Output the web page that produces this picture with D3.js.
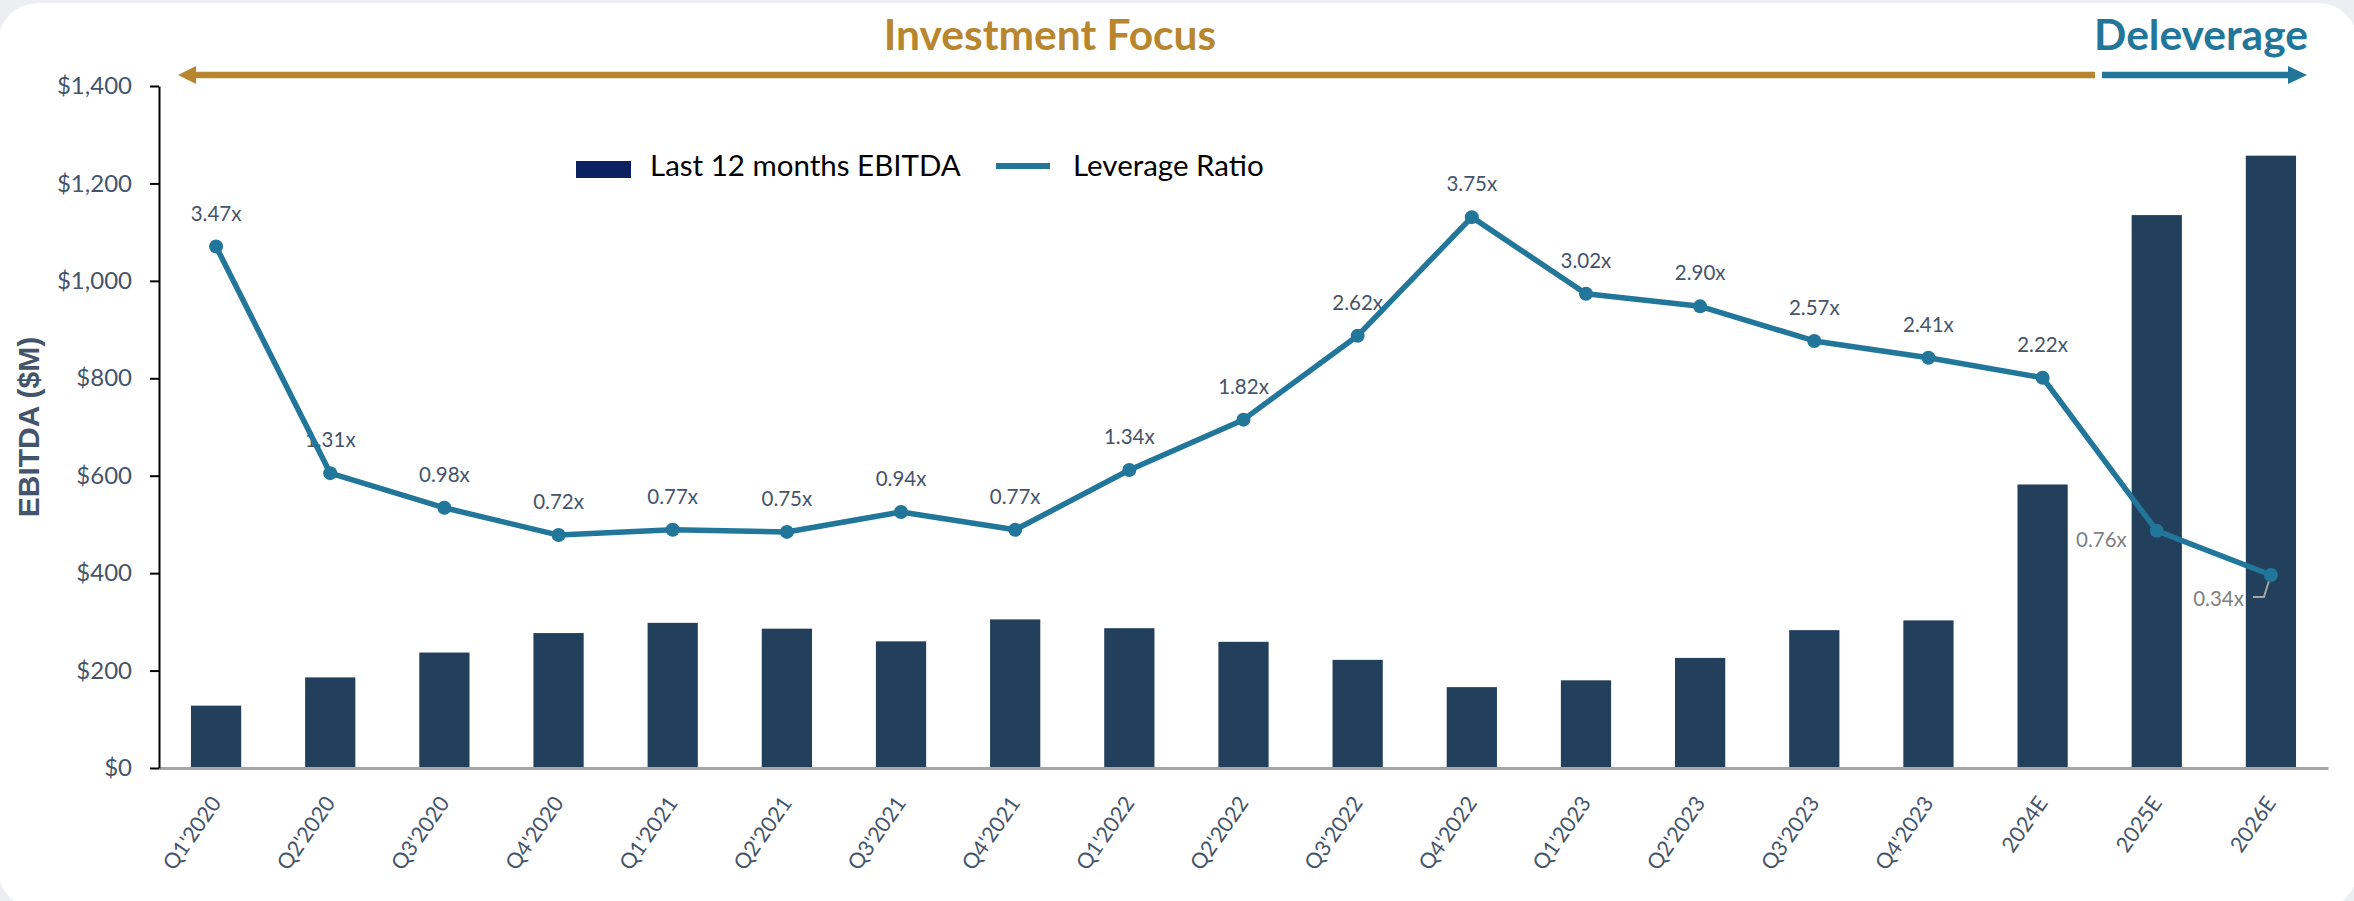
<!DOCTYPE html>
<html>
<head>
<meta charset="utf-8">
<script src="https://cdn.jsdelivr.net/npm/d3@7/dist/d3.min.js"></script>
<style>
  html, body { margin: 0; padding: 0; background: #ECEEF1; }
  svg { display: block; }
</style>
</head>
<body>
<svg id="chart" width="2354" height="901"></svg>
<script>
// ---- data ----
const categories = ["Q1'2020","Q2'2020","Q3'2020","Q4'2020","Q1'2021","Q2'2021","Q3'2021","Q4'2021",
  "Q1'2022","Q2'2022","Q3'2022","Q4'2022","Q1'2023","Q2'2023","Q3'2023","Q4'2023","2024E","2025E","2026E"];
const ebitda = [128,186,237,277,298,286,260,305,287,259,222,166,180,226,283,303,582,1135,1257];
const leverage = [3.47,1.31,0.98,0.72,0.77,0.75,0.94,0.77,1.34,1.82,2.62,3.75,3.02,2.90,2.57,2.41,2.22,0.76,0.34];
const leverageLabels = ["3.47x","1.31x","0.98x","0.72x","0.77x","0.75x","0.94x","0.77x","1.34x","1.82x","2.62x","3.75x","3.02x","2.90x","2.57x","2.41x","2.22x","0.76x","0.34x"];
const yTicks = [0,200,400,600,800,1000,1200,1400];
const seriesNames = ["Last 12 months EBITDA","Leverage Ratio"];
const phaseNames = ["Investment Focus","Deleverage"];
const yTitle = "EBITDA ($M)";

(function(){
// ---- layout ----
const svg = d3.select("#chart");
const pL = 159, pR = 2328, pT = 86, pB = 768;
const FONT = "Lato, 'Open Sans', sans-serif";
const C = { bar:"#223F5C", legendBar:"#0B2160", line:"#21769A", gold:"#B8862F", teal:"#21769A", label:"#44546A", grey:"#7F7F7F" };

// card
svg.append("rect").attr("x",-2).attr("y",3).attr("width",2360).attr("height",906).attr("rx",40).attr("fill","#ffffff");

const x = d3.scaleBand().domain(categories).range([pL,pR]).paddingInner(0.56).paddingOuter(0.28);
const y = d3.scaleLinear().domain([0,1400]).range([pB,pT]);
const yR = d3.scaleLinear().domain([-1.5,5]).range([pB,pT]); // hidden secondary axis

// bars
svg.append("g").selectAll("rect").data(ebitda).join("rect")
  .attr("x",(d,i)=>x(categories[i]))
  .attr("y",d=>y(d))
  .attr("width",x.bandwidth())
  .attr("height",d=>y(0)-y(d))
  .attr("fill",C.bar);

// x axis
const xa = svg.append("g").attr("transform",`translate(0,${pB})`)
  .call(d3.axisBottom(x).tickSize(0).tickSizeOuter(0));
xa.select(".domain").attr("stroke","#A6A6A6").attr("stroke-width",3);
xa.selectAll(".tick text")
  .attr("font-family",FONT).attr("font-size",21.5).attr("fill",C.label)
  .attr("text-anchor","end")
  .attr("y",0).attr("dy",0)
  .attr("transform","translate(6,35) rotate(-55)");

// y axis
const ya = svg.append("g").attr("transform",`translate(${pL},0)`)
  .call(d3.axisLeft(y).tickValues(yTicks).tickSize(9).tickSizeOuter(0).tickPadding(18)
    .tickFormat(d=>"$"+d3.format(",")(d)));
ya.select(".domain").attr("stroke","#000").attr("stroke-width",2);
ya.selectAll(".tick line").attr("stroke","#000").attr("stroke-width",2);
ya.selectAll(".tick text").attr("font-family",FONT).attr("font-size",24).attr("fill",C.label);

// y title
svg.append("text").attr("transform","translate(28,427) rotate(-90)")
  .attr("text-anchor","middle").attr("dominant-baseline","central")
  .attr("font-family","'Liberation Sans', Arial, sans-serif").attr("font-weight","bold")
  .attr("font-size",30).attr("fill",C.label).text(yTitle);

// data labels (drawn before line)
const cx = i => x(categories[i]) + x.bandwidth()/2;
const lab = svg.append("g").attr("font-family",FONT).attr("font-size",20.5);
leverage.forEach((v,i)=>{
  if (i < 17) {
    lab.append("text").attr("x",cx(i)).attr("y",yR(v)-26).attr("text-anchor","middle")
      .attr("fill",C.label).text(leverageLabels[i]);
  }
});
// last two labels (grey, to the left)
lab.append("text").attr("x",cx(17)-30).attr("y",yR(leverage[17])+16).attr("text-anchor","end")
  .attr("fill",C.grey).text(leverageLabels[17]);
lab.append("text").attr("x",cx(18)-27).attr("y",yR(leverage[18])+31).attr("text-anchor","end")
  .attr("fill",C.grey).text(leverageLabels[18]);
svg.append("path")
  .attr("d",`M${cx(18)-2},${yR(leverage[18])+6} L${cx(18)-7},${yR(leverage[18])+22} L${cx(18)-18},${yR(leverage[18])+22}`)
  .attr("fill","none").attr("stroke","#A6A6A6").attr("stroke-width",2);

// line
svg.append("path").datum(leverage)
  .attr("d",d3.line().x((d,i)=>cx(i)).y(d=>yR(d)))
  .attr("fill","none").attr("stroke",C.line).attr("stroke-width",5.5).attr("stroke-linejoin","round");
svg.append("g").selectAll("circle").data(leverage).join("circle")
  .attr("cx",(d,i)=>cx(i)).attr("cy",d=>yR(d)).attr("r",7).attr("fill",C.line);

// legend
const lg = svg.append("g").attr("font-family",FONT).attr("font-size",29.5).attr("fill","#000");
lg.append("rect").attr("x",576).attr("y",161).attr("width",55).attr("height",17).attr("fill",C.legendBar);
lg.append("text").attr("x",650).attr("y",176).text(seriesNames[0]);
lg.append("line").attr("x1",996).attr("x2",1050).attr("y1",166).attr("y2",166).attr("stroke",C.line).attr("stroke-width",6);
lg.append("text").attr("x",1073).attr("y",176).text(seriesNames[1]);

// phase arrows
svg.append("line").attr("x1",193).attr("x2",2095).attr("y1",75).attr("y2",75).attr("stroke",C.gold).attr("stroke-width",6.5);
svg.append("path").attr("d","M178,75 L196,66 L196,84 Z").attr("fill",C.gold);
svg.append("line").attr("x1",2102).attr("x2",2291).attr("y1",75).attr("y2",75).attr("stroke",C.teal).attr("stroke-width",6.5);
svg.append("path").attr("d","M2307,75 L2288,66 L2288,84 Z").attr("fill",C.teal);

svg.append("text").attr("x",1050).attr("y",50).attr("text-anchor","middle")
  .attr("font-family",FONT).attr("font-weight","bold").attr("font-size",42.5).attr("fill",C.gold).text(phaseNames[0]);
svg.append("text").attr("x",2201).attr("y",50).attr("text-anchor","middle")
  .attr("font-family",FONT).attr("font-weight","bold").attr("font-size",42.5).attr("fill",C.teal).text(phaseNames[1]);
})();
</script>
</body>
</html>
